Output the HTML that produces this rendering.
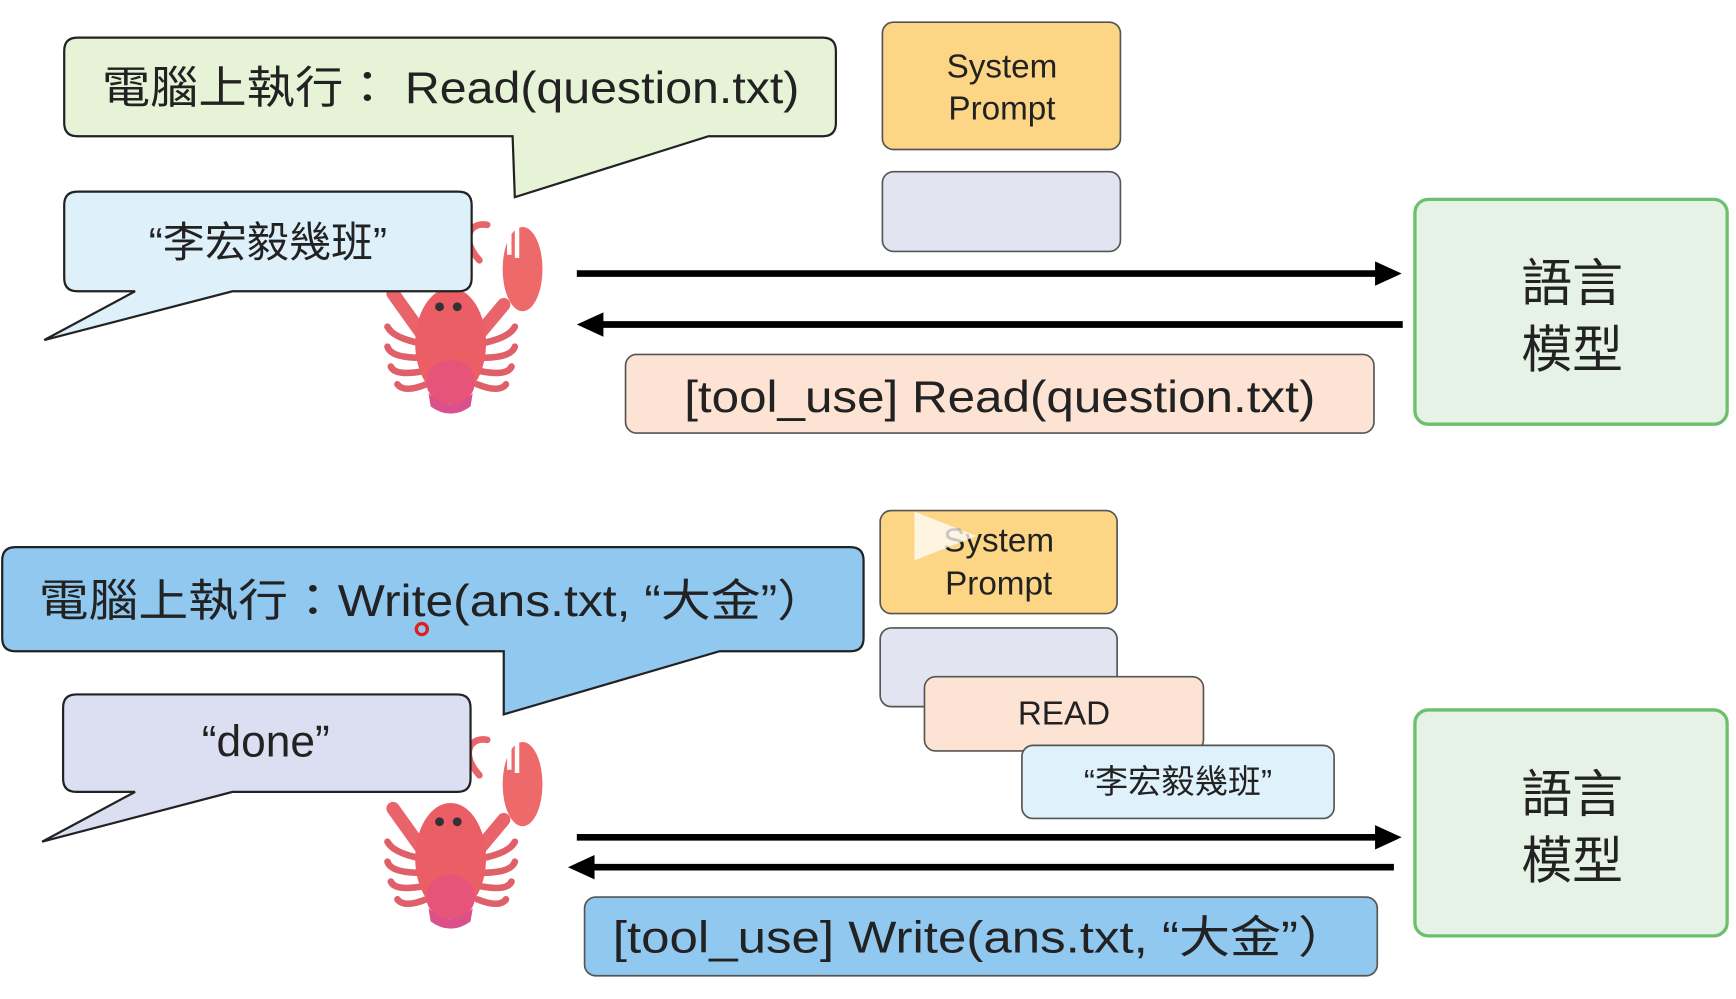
<!DOCTYPE html>
<html><head><meta charset="utf-8"><style>
html,body{margin:0;padding:0;background:#fff;}
svg{display:block;}
text{font-family:"Liberation Sans","Noto Sans CJK TC",sans-serif;fill:#222;}
</style></head><body>
<svg width="1736" height="999" viewBox="0 0 1568 902" preserveAspectRatio="none" xmlns="http://www.w3.org/2000/svg">
<defs>
<g id="lob">
  <path d="M88,40 C70,20 80,5 95,8" fill="none" stroke="#e8636a" stroke-width="6" stroke-linecap="round"/>
  <ellipse cx="127" cy="48" rx="18" ry="38" fill="#ee6a6a"/>
  <path d="M115,10 L115,35 M122,8 L122,38" stroke="#fff" stroke-width="4"/>
  <path d="M110,80 L85,110" stroke="#e8636a" stroke-width="12" stroke-linecap="round"/>
  <path d="M10,70 L35,105" stroke="#e8636a" stroke-width="12" stroke-linecap="round"/>
  <g stroke="#e0606a" stroke-width="6" stroke-linecap="round" fill="none">
    <path d="M35,115 Q10,110 5,100"/><path d="M35,128 Q8,128 5,118"/><path d="M38,140 Q12,145 8,136"/><path d="M40,152 Q20,160 14,152"/>
    <path d="M90,115 Q115,110 120,100"/><path d="M90,128 Q117,128 120,118"/><path d="M88,140 Q113,145 117,136"/><path d="M86,152 Q106,160 112,152"/>
  </g>
  <ellipse cx="62" cy="115" rx="32" ry="50" fill="#ec5e66"/>
  <ellipse cx="62" cy="150" rx="22" ry="20" fill="#e6547a"/>
  <path d="M42,160 Q62,180 82,160 L80,172 Q62,185 44,172Z" fill="#d9508a"/>
  <circle cx="52" cy="82" r="4" fill="#333"/><circle cx="68" cy="82" r="4" fill="#333"/>
</g>
</defs>

<!-- TOP -->
<path d="M70,34 H743 Q755,34 755,46 V111 Q755,123 743,123 H640 L465,178 L463,123 H70 Q58,123 58,111 V46 Q58,34 70,34Z" fill="#e6f3d6" stroke="#222" stroke-width="2"/>
<text x="92" y="93" font-size="40" textLength="630" lengthAdjust="spacingAndGlyphs">電腦上執行： Read(question.txt)</text>

<use href="#lob" x="345" y="195"/>

<path d="M70,173 H414 Q426,173 426,185 V251 Q426,263 414,263 H210 L40,307 L122,263 H70 Q58,263 58,251 V185 Q58,173 70,173Z" fill="#def0fa" stroke="#222" stroke-width="2"/>
<text x="242" y="232" font-size="38" text-anchor="middle">“李宏毅幾班”</text>

<rect x="797" y="20" width="215" height="115" rx="10" fill="#fcd684" stroke="#555" stroke-width="1.5"/>
<text x="905" y="70" font-size="30" text-anchor="middle">System</text>
<text x="905" y="108" font-size="30" text-anchor="middle">Prompt</text>
<rect x="797" y="155" width="215" height="72" rx="10" fill="#e2e4f2" stroke="#555" stroke-width="1.5"/>

<line x1="521" y1="247" x2="1246" y2="247" stroke="#000" stroke-width="6"/>
<polygon points="1242,236 1266,247 1242,258" fill="#000"/>
<line x1="543" y1="293" x2="1267" y2="293" stroke="#000" stroke-width="6"/>
<polygon points="545,282 521,293 545,304" fill="#000"/>

<rect x="565" y="320" width="676" height="71" rx="10" fill="#fde3d3" stroke="#555" stroke-width="1.5"/>
<text x="903" y="372" font-size="40" text-anchor="middle" textLength="570" lengthAdjust="spacingAndGlyphs">[tool_use] Read(question.txt)</text>

<rect x="1278" y="180" width="282" height="203" rx="12" fill="#e5f2e5" stroke="#6cbf6c" stroke-width="3"/>
<text x="1420" y="272" font-size="46" text-anchor="middle">語言</text>
<text x="1420" y="332" font-size="46" text-anchor="middle">模型</text>

<!-- BOTTOM -->
<path d="M14,494 H768 Q780,494 780,506 V576 Q780,588 768,588 H650 L455,645 L455,588 H14 Q2,588 2,576 V506 Q2,494 14,494Z" fill="#90c8f0" stroke="#222" stroke-width="2"/>
<text x="35" y="556" font-size="40" textLength="712" lengthAdjust="spacingAndGlyphs">電腦上執行：Write(ans.txt, “大金”）</text>
<circle cx="381" cy="568" r="5" fill="none" stroke="#e02020" stroke-width="3"/>

<use href="#lob" x="345" y="660"/>

<path d="M69,627 H413 Q425,627 425,639 V703 Q425,715 413,715 H210 L38,760 L122,715 H69 Q57,715 57,703 V639 Q57,627 69,627Z" fill="#dcdff2" stroke="#222" stroke-width="2"/>
<text x="240" y="683" font-size="40" text-anchor="middle">“done”</text>

<rect x="795" y="461" width="214" height="93" rx="10" fill="#fcd684" stroke="#555" stroke-width="1.5"/>
<text x="902" y="498" font-size="30" text-anchor="middle">System</text>
<text x="902" y="537" font-size="30" text-anchor="middle">Prompt</text>
<path d="M826,462 L882,484 L826,506Z" fill="#fff" opacity="0.75"/>
<rect x="795" y="567" width="214" height="71" rx="10" fill="#e2e4f2" stroke="#555" stroke-width="1.5"/>
<rect x="835" y="611" width="252" height="67" rx="10" fill="#fde3d3" stroke="#555" stroke-width="1.5"/>
<text x="961" y="654" font-size="30" text-anchor="middle">READ</text>
<rect x="923" y="673" width="282" height="66" rx="10" fill="#dff1fb" stroke="#555" stroke-width="1.5"/>
<text x="1064" y="716" font-size="30" text-anchor="middle">“李宏毅幾班”</text>

<line x1="521" y1="756" x2="1246" y2="756" stroke="#000" stroke-width="6"/>
<polygon points="1242,745 1266,756 1242,767" fill="#000"/>
<line x1="535" y1="783" x2="1259" y2="783" stroke="#000" stroke-width="6"/>
<polygon points="537,772 513,783 537,794" fill="#000"/>

<rect x="528" y="810" width="716" height="71" rx="10" fill="#90c8f0" stroke="#555" stroke-width="1.5"/>
<text x="886" y="860" font-size="40" text-anchor="middle" textLength="665" lengthAdjust="spacingAndGlyphs">[tool_use] Write(ans.txt, “大金”）</text>

<rect x="1278" y="641" width="282" height="204" rx="12" fill="#e5f2e5" stroke="#6cbf6c" stroke-width="3"/>
<text x="1420" y="733" font-size="46" text-anchor="middle">語言</text>
<text x="1420" y="793" font-size="46" text-anchor="middle">模型</text>
</svg>
</body></html>
